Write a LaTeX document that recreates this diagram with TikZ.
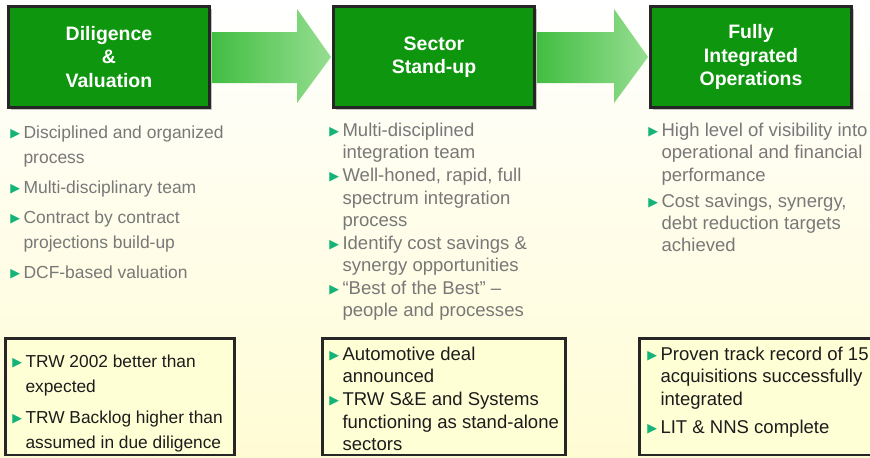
\documentclass[tikz,border=0pt]{standalone}
\usepackage{fontspec}
\setmainfont{Liberation Sans}
\newfontfamily\symfont{DejaVu Sans}
\usetikzlibrary{calc,shadows}

\definecolor{boxgreen}{RGB}{14,150,14}
\definecolor{arrowL}{RGB}{66,190,66}
\definecolor{arrowR}{RGB}{150,222,145}
\definecolor{bulcol}{RGB}{20,180,120}
\definecolor{textgrey}{RGB}{120,120,120}
\definecolor{textdark}{RGB}{28,28,28}
\definecolor{bgtop}{RGB}{255,255,255}
\definecolor{bgbottom}{RGB}{255,252,212}
\definecolor{notefill}{RGB}{255,255,214}

\newcommand{\bul}{\llap{\raisebox{0.6pt}{\symfont\fontsize{9.5}{9.5}\selectfont\color{bulcol}▶}\hspace{2.5pt}}}

\tikzset{every picture/.style={line width=0.75pt}}
\tikzset{
  stagebox/.style={draw=black!85, line width=2.2pt, fill=boxgreen, minimum width=150.75pt, minimum height=75.75pt,
    align=center, text=white, font=\fontsize{14.6}{17.6}\selectfont\bfseries,
    drop shadow={shadow xshift=2pt, shadow yshift=-2pt, opacity=0.45}},
  notebox/.style={draw=black!85, line width=2.2pt, fill=notefill, minimum height=87.4pt},
  bullets/.style={anchor=north west, inner sep=0pt, align=left, text=textgrey},
  notes/.style={anchor=north west, inner sep=0pt, align=left, text=textdark}
}

\begin{document}
\begin{tikzpicture}[x=0.75pt,y=0.75pt,yscale=-1,xscale=1]
\clip (0,0) rectangle (870,457);

%Background
\shade [top color=bgtop, bottom color=bgbottom] (0,0) rectangle (870,457);

%Shape: Rectangle [stages]
\node [stagebox] (dil) at (109,57) {Diligence\\\&\\Valuation};
\node [stagebox] (sect) at (434,57) {Sector\\Stand-up};
\node [stagebox] (full) at (751,57) {Fully\\Integrated\\Operations};

%Shape: Right Arrow
\shade [left color=arrowL, right color=arrowR] ($(dil.east)+(1,-25)$) -- ($(sect.west)+(-35,-25)$) -- ($(sect.west)+(-35,-48)$) -- ($(sect.west)+(-1,0)$) -- ($(sect.west)+(-35,46)$) -- ($(sect.west)+(-35,26)$) -- ($(dil.east)+(1,26)$) -- cycle ;
%Shape: Right Arrow
\shade [left color=arrowL, right color=arrowR] ($(sect.east)+(1,-25)$) -- ($(full.west)+(-35,-25)$) -- ($(full.west)+(-35,-48)$) -- ($(full.west)+(-1,0)$) -- ($(full.west)+(-35,46)$) -- ($(full.west)+(-35,26)$) -- ($(sect.east)+(1,26)$) -- cycle ;

% Text Node
\node [bullets, font=\fontsize{13.1}{18.75}\selectfont] (col1) at ($(dil.south west)+(16,16)$)
  {\bul Disciplined and organized\\process\\[3.75pt]
   \bul Multi-disciplinary team\\[3.75pt]
   \bul Contract by contract\\projections build-up\\[3.75pt]
   \bul DCF-based valuation};
% Text Node
\node [bullets, font=\fontsize{13.9}{16.9}\selectfont] (col2) at ($(sect.south west)+(10,13.5)$)
  {\bul Multi-disciplined\\integration team\\
   \bul Well-honed, rapid, full\\spectrum integration\\process\\
   \bul Identify cost savings \&\\synergy opportunities\\
   \bul “Best of the Best” –\\people and processes};
% Text Node
\node [bullets, font=\fontsize{13.9}{16.75}\selectfont] (col3) at ($(full.south west)+(12,13.5)$)
  {\bul High level of visibility into\\operational and financial\\performance\\[2.8pt]
   \bul Cost savings, synergy,\\debt reduction targets\\achieved};

%Shape: Rectangle [results]
\node [notebox, minimum width=171.75pt] (res1) at (120,396.75) {};
\node [notebox, minimum width=182.25pt] (res2) at (444,396.75) {};
\node [notebox, minimum width=195.4pt] (res3) at (769.75,396.75) {};

% Text Node
\node [notes, font=\fontsize{13}{19}\selectfont] (note1) at ($(res1.north west)+(21,17)$)
  {\bul TRW 2002 better than\\expected\\[4.1pt]
   \bul TRW Backlog higher than\\assumed in due diligence};
% Text Node
\node [notes, font=\fontsize{13.9}{16.9}\selectfont] (note2) at ($(res2.north west)+(21,9.5)$)
  {\bul Automotive deal\\announced\\
   \bul TRW S\&E and Systems\\functioning as stand-alone\\sectors};
% Text Node
\node [notes, font=\fontsize{13.9}{16.9}\selectfont] (note3) at ($(res3.north west)+(22,9.5)$)
  {\bul Proven track record of 15\\acquisitions successfully\\integrated\\[4.1pt]
   \bul LIT \& NNS complete};

\end{tikzpicture}
\end{document}
